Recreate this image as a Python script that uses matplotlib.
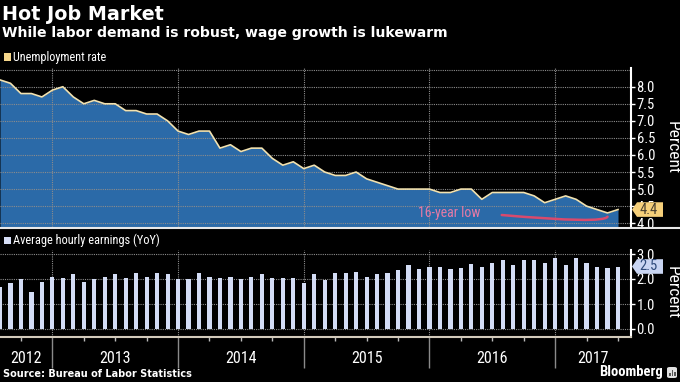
import matplotlib
matplotlib.use('Agg')
import matplotlib.pyplot as plt
import numpy as np
from matplotlib.patches import Rectangle, Polygon, FancyBboxPatch
from matplotlib.lines import Line2D

plt.rcParams['font.family'] = ['Roboto Condensed', 'Roboto', 'DejaVu Sans']
WIDE = ['DejaVu Sans']

# ---------------- data ----------------
start_year, start_month = 2012, 7   # first observation: Jul 2012 (monthly to Jun 2017)
unemployment = [8.2, 8.1, 7.8, 7.8, 7.7, 7.9,
                8.0, 7.7, 7.5, 7.6, 7.5, 7.5, 7.3, 7.3, 7.2, 7.2, 7.0, 6.7,
                6.6, 6.7, 6.7, 6.2, 6.3, 6.1, 6.2, 6.2, 5.9, 5.7, 5.8, 5.6,
                5.7, 5.5, 5.4, 5.4, 5.5, 5.3, 5.2, 5.1, 5.0, 5.0, 5.0, 5.0,
                4.9, 4.9, 5.0, 5.0, 4.7, 4.9, 4.9, 4.9, 4.9, 4.8, 4.6, 4.7,
                4.8, 4.7, 4.5, 4.4, 4.3, 4.4]
earnings_yoy = [1.7, 1.85, 2.0, 1.5, 1.9, 2.1,
                2.05, 2.2, 1.9, 2.0, 2.1, 2.2, 2.05, 2.25, 2.1, 2.25, 2.2, 2.0,
                2.0, 2.25, 2.1, 2.05, 2.1, 2.0, 2.1, 2.2, 2.05, 2.05, 2.05, 1.85,
                2.2, 1.95, 2.25, 2.25, 2.3, 2.1, 2.2, 2.25, 2.35, 2.55, 2.4, 2.5,
                2.5, 2.4, 2.45, 2.6, 2.5, 2.65, 2.75, 2.55, 2.75, 2.75, 2.65, 2.85,
                2.55, 2.85, 2.65, 2.5, 2.45, 2.5]
year_labels = ['2012', '2013', '2014', '2015', '2016', '2017']
top_ticks = [4.0, 4.5, 5.0, 5.5, 6.0, 6.5, 7.0, 7.5, 8.0]
bottom_ticks = [0.0, 1.0, 2.0, 3.0]

n = len(unemployment)
x = np.arange(n)
month_of = [(start_month - 1 + i) % 12 + 1 for i in range(n)]
year_ends = [i for i in range(n) if month_of[i] == 12]
quarter_ticks = [i for i in range(n) if month_of[i] in (3, 6, 9)]

BG = 'black'
GRID = '#8c8c8c'
W, H = 680, 382
fig = plt.figure(figsize=(W / 100, H / 100), dpi=100, facecolor=BG)

XMAX = 60.24
AX_RIGHT = 631

def fy(py):
    return 1 - py / H

# ---------------- top panel ----------------
ax1 = fig.add_axes([0, fy(227.3), AX_RIGHT / W, (227.3 - 68.3) / H])
ax1.set_facecolor(BG)
y0 = 3.88
ax1.fill_between(x, unemployment, y0, color='#2b6aa8', lw=0, zorder=1)
ax1.plot(x, unemployment, color='#f2e2b0', lw=1.2, zorder=3)
for v in np.arange(4.0, 8.51, 0.5):
    ax1.axhline(v, color=GRID, lw=0.8, ls=(0, (1, 1)), zorder=2)
for b in year_ends:
    ax1.axvline(b, color=GRID, lw=0.8, ls=(0, (1, 1)), zorder=2)
ax1.set_xlim(0, XMAX)
ax1.set_ylim(y0, 8.54)
ax1.yaxis.tick_right()
ax1.set_yticks(top_ticks)
ax1.set_yticklabels([f'{t:.1f}' for t in top_ticks])
ax1.tick_params(axis='y', colors='white', labelcolor='white', length=3, width=1, labelsize=10.5, pad=1)
ax1.set_xticks([])
for s in ('left', 'top'):
    ax1.spines[s].set_visible(False)
ax1.spines['right'].set_color('white')
ax1.spines['right'].set_linewidth(1.5)
ax1.spines['bottom'].set_visible(False)

# annotation
ax1.text(39.9, 4.29, '16-year low', color='#e57aa6', fontsize=10, va='center', ha='left', zorder=5)
imin = int(np.argmin(unemployment))
ax1.annotate('', xy=(x[imin], unemployment[imin] - 0.11), xytext=(47.9, 4.24),
             arrowprops=dict(arrowstyle='-', color='#d94a6d', lw=1.8,
                             connectionstyle='angle3,angleA=-5,angleB=60',
                             shrinkA=0, shrinkB=0), zorder=5)

# ---------------- bottom panel ----------------
ax2 = fig.add_axes([0, fy(336.5), AX_RIGHT / W, (336.5 - 250) / H])
ax2.set_facecolor(BG)
for v in bottom_ticks:
    ax2.axhline(v, color=GRID, lw=0.8, ls=(0, (1, 1)), zorder=1)
for b in year_ends:
    ax2.axvline(b, color=GRID, lw=0.8, ls=(0, (1, 1)), zorder=1)
ax2.bar(x, earnings_yoy, width=0.4, color='#d3dcf5', zorder=2)
ax2.set_xlim(0, XMAX)
ax2.set_ylim(-0.3, 3.16)
ax2.yaxis.tick_right()
ax2.set_yticks(bottom_ticks)
ax2.set_yticklabels([f'{t:.1f}' for t in bottom_ticks])
ax2.tick_params(axis='y', colors='white', labelcolor='white', length=3, width=1, labelsize=10.5, pad=1)
ax2.set_xticks(year_ends)
ax2.set_xticklabels([])
ax2.set_xticks(quarter_ticks, minor=True)
ax2.tick_params(axis='x', which='major', length=22, width=1, color='#8a8a8a')
ax2.tick_params(axis='x', which='minor', length=3, width=1, color='#bbbbbb')
for s in ('left', 'top'):
    ax2.spines[s].set_visible(False)
ax2.spines['right'].set_color('white')
ax2.spines['right'].set_linewidth(1.5)
ax2.spines['bottom'].set_color('#d2cabb')
ax2.spines['bottom'].set_linewidth(1.5)

# year labels centred in visible span
bounds = [0] + year_ends + [XMAX]
for i, lab in enumerate(year_labels):
    c = (bounds[i] + bounds[i + 1]) / 2
    ax2.text(c, -0.26, lab, transform=ax2.get_xaxis_transform(), ha='center', va='center',
             color='white', fontsize=11.5)

# separator line under top panel across the figure
fig.add_artist(Line2D([0, 1], [fy(227.5), fy(227.5)], transform=fig.transFigure,
                      color='#e8e8e8', lw=1.5))

# value tags
def tag(ax, val, fc, tc):
    yd = ax.transData.transform((0, val))[1]
    xs = AX_RIGHT + 1
    hh = 7.3
    pts = [(xs, yd), (xs + 5, yd + hh), (xs + 31, yd + hh), (xs + 31, yd - hh), (xs + 5, yd - hh)]
    pts = [(px / W, py / H) for px, py in pts]
    fig.add_artist(Polygon(pts, closed=True, transform=fig.transFigure, fc=fc, ec='none', zorder=6))
    fig.text((xs + 17) / W, yd / H, f'{val:.1f}', ha='center', va='center', color=tc,
             fontsize=10.5, zorder=7)

tag(ax1, unemployment[-1], '#f5cf7a', '#4a4030')
tag(ax2, earnings_yoy[-1], '#c9d5f2', '#2e4a7a')

# axis titles
fig.text(672 / W, fy(148), 'Percent', rotation=270, ha='center', va='center', color='white', fontsize=12.5)
fig.text(672 / W, fy(293), 'Percent', rotation=270, ha='center', va='center', color='white', fontsize=12.5)

# legends
fig.add_artist(Rectangle((4 / W, fy(60.5)), 7 / W, 7 / H, transform=fig.transFigure, fc='#f5d68a', ec='none'))
fig.text(13 / W, fy(57), 'Unemployment rate', color='white', fontsize=8.7, va='center', ha='left')
fig.add_artist(Rectangle((4 / W, fy(243.5)), 7 / W, 7 / H, transform=fig.transFigure, fc='#d6def6', ec='none'))
fig.text(13 / W, fy(240), 'Average hourly earnings (YoY)', color='white', fontsize=8.9, va='center', ha='left')

# titles
fig.text(2 / W, fy(14), 'Hot Job Market', color='white', fontsize=13.8, fontweight='bold', va='center', ha='left',
         family=WIDE)
fig.text(2 / W, fy(33), 'While labor demand is robust, wage growth is lukewarm', color='white',
         fontsize=10.1, fontweight='bold', va='center', ha='left', family=WIDE)

# footer
fig.text(3 / W, fy(374), 'Source: Bureau of Labor Statistics', color='white', fontsize=7.0,
         fontweight='bold', va='center', ha='left', family=WIDE)
fig.text(663 / W, fy(372), 'Bloomberg', color='white', fontsize=10.5, fontweight='bold', va='center', ha='right')
fig.add_artist(FancyBboxPatch((667 / W, fy(378)), 10 / W, 11 / H, boxstyle='round,pad=0,rounding_size=0.004',
                              transform=fig.transFigure, fc='#e0e0e0', ec='none'))
for k, hgt in enumerate([3, 6, 4]):
    fig.add_artist(Rectangle(((669 + k * 2.5) / W, fy(376)), 1.5 / W, hgt / H,
                             transform=fig.transFigure, fc='#555555', ec='none'))

fig.savefig('out.png', dpi=100, facecolor=BG)
